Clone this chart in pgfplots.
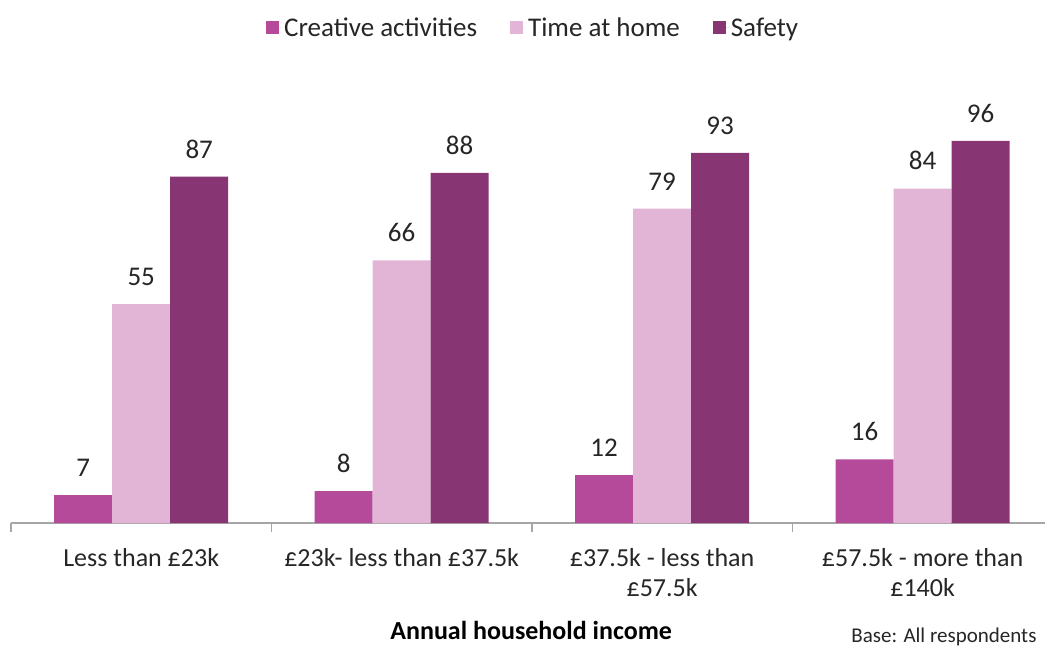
\documentclass[border=0pt]{standalone}
\usepackage{pgfplots}
\pgfplotsset{compat=1.18}
\usepackage{fontspec}
\setmainfont{Carlito}
\definecolor{cre}{HTML}{B44A99}
\definecolor{tah}{HTML}{E2B4D6}
\definecolor{saf}{HTML}{873573}
\definecolor{axgray}{HTML}{A6A6A6}
\definecolor{txt}{HTML}{262626}
\pgfplotsset{sqleg/.style={legend image code/.code={\fill[##1] (0pt,-6.5pt) rectangle (13pt,6.5pt); \path (0pt,0pt) -- (16pt,0pt);}}}
\begin{document}
\begin{tikzpicture}
\useasboundingbox (-11pt,-125pt) rectangle (1034pt,523pt);
\begin{axis}[
 at={(0pt,0pt)}, anchor=south west,
 scale only axis, width=1034pt, height=398pt,
 ymin=0, ymax=100, xmin=-0.5, xmax=3.47,
 axis x line*=bottom, axis y line=none,
 ybar=0pt, bar width=58pt,
 clip=false,
 xtick={0,1,2,3},
 xticklabels={{Less than £23k},{£23k- less than £37.5k},{£37.5k - less than\\£57.5k},{£57.5k - more than\\£140k}},
 major tick length=0pt,
 minor xtick={-0.5,0.5,1.5,2.5},
 minor tick length=9pt,
 tick align=outside,
 tick style={axgray, line width=1.5pt},
 minor tick style={axgray, line width=1.5pt},
 axis line style={axgray, line width=1.5pt},
 xticklabel style={align=center, font=\fontsize{26}{30}\selectfont, text=txt, yshift=-22pt},
 xlabel={Annual household income},
 xlabel style={at={(axis description cs:0.503,-0.271)}, anchor=center, font=\bfseries\fontsize{26}{30}\selectfont, text=black},
 nodes near coords,
 /pgf/number format/assume math mode=true,
 every node near coord/.append style={font=\fontsize{27}{30}\selectfont, text=txt, yshift=15pt},
 legend columns=3,
 legend style={at={(0.505,1.244)}, anchor=center, draw=none, font=\fontsize{27}{30}\selectfont, text=txt,
   /tikz/every even column/.append style={column sep=31pt}},
]
\addplot[fill=cre, draw=none, sqleg] coordinates {(0,7) (1,8) (2,12) (3,16)};
\addplot[fill=tah, draw=none, sqleg] coordinates {(0,55) (1,66) (2,79) (3,84)};
\addplot[fill=saf, draw=none, sqleg] coordinates {(0,87) (1,88) (2,93) (3,96)};
\legend{Creative activities, Time at home, Safety}
\end{axis}
\node[anchor=east, font=\fontsize{21}{25}\selectfont, text=txt] at (1029pt,-114pt) {Base: All respondents};
\end{tikzpicture}
\end{document}
